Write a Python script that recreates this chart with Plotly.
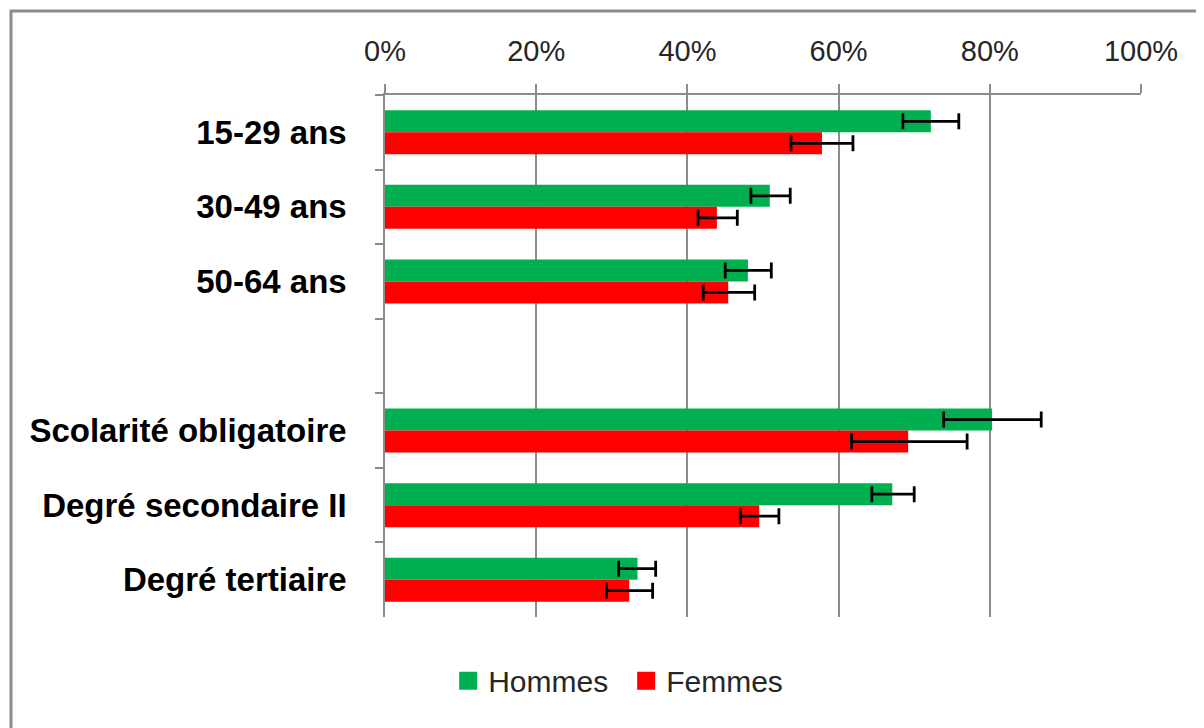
import plotly.graph_objects as go

categories = ["15-29 ans", "30-49 ans", "50-64 ans", " ", "Scolarité obligatoire", "Degré secondaire II", "Degré tertiaire"]
hommes = [72.2, 50.9, 48.0, None, 80.3, 67.1, 33.4]
hommes_err_plus = [3.7, 2.7, 3.1, None, 6.5, 2.9, 2.4]
hommes_err_minus = [3.7, 2.5, 3.0, None, 6.4, 2.7, 2.5]
femmes = [57.8, 43.9, 45.4, None, 69.2, 49.5, 32.3]
femmes_err_plus = [4.1, 2.7, 3.5, None, 7.8, 2.6, 3.1]
femmes_err_minus = [4.1, 2.5, 3.3, None, 7.5, 2.5, 3.0]
series_names = ["Hommes", "Femmes"]
series_colors = ["#00B050", "#FF0000"]
xtick_vals = [0, 20, 40, 60, 80, 100]
xtick_text = ["0%", "20%", "40%", "60%", "80%", "100%"]

fig = go.Figure()
for name, vals, ep, em, col in [
    (series_names[0], hommes, hommes_err_plus, hommes_err_minus, series_colors[0]),
    (series_names[1], femmes, femmes_err_plus, femmes_err_minus, series_colors[1]),
]:
    fig.add_trace(go.Bar(
        y=categories, x=vals, orientation="h", name=name, showlegend=False,
        legendgroup=name,
        marker=dict(color=col, line=dict(width=0)),
        error_x=dict(type="data", array=ep, arrayminus=em,
                     symmetric=False, color="black", thickness=2.8, width=8),
    ))
# legend entries with larger square swatches
for name, col in zip(series_names, series_colors):
    fig.add_trace(go.Scatter(
        x=[None], y=[None], mode="markers", name=name, legendgroup=name,
        marker=dict(symbol="square", size=21, color=col, line=dict(width=2, color=col)),
        showlegend=True,
    ))

fig.update_layout(
    width=1204, height=728,
    margin=dict(l=377, r=71, t=87, b=119, autoexpand=False),
    paper_bgcolor="white", plot_bgcolor="white",
    barmode="group", bargap=0.41, bargroupgap=0,
    showlegend=True,
    legend=dict(orientation="h", x=0.319, xanchor="center", y=-0.122, yanchor="middle",
                font=dict(family="Liberation Sans, Arial, sans-serif", size=30, color="#262626"),
                itemwidth=30, itemsizing="trace", traceorder="normal",
                entrywidth=133, entrywidthmode="pixels"),
    shapes=[dict(type="rect", xref="paper", yref="paper",
                 x0=-0.4947, x1=1.3, y0=-0.4, y1=1.1609,
                 line=dict(color="#8C8C8C", width=3), fillcolor="rgba(0,0,0,0)", layer="below")],
)
fig.update_xaxes(
    side="top", range=[0, 100], tickvals=xtick_vals, ticktext=xtick_text,
    showgrid=True, gridcolor="#8C8C8C", gridwidth=1.5,
    showline=True, linecolor="#8C8C8C", linewidth=1.5,
    ticks="outside", ticklen=9, tickcolor="#8C8C8C", tickwidth=1.5,
    tickfont=dict(family="Liberation Sans, Arial, sans-serif", size=29, color="#262626"),
    ticklabelstandoff=12, zeroline=False, fixedrange=True, automargin=False,
)
fig.update_yaxes(
    autorange="reversed", type="category",
    showline=True, linecolor="#8C8C8C", linewidth=1.5,
    ticks="outside", ticklen=8, tickcolor="#8C8C8C", tickwidth=1.5, tickson="boundaries",
    tickfont=dict(family="Liberation Sans, Arial, sans-serif",
                  size=33, color="black", weight="bold"),
    ticklabelstandoff=30, showgrid=False, fixedrange=True, automargin=False,
)

fig.write_html("out.html")
